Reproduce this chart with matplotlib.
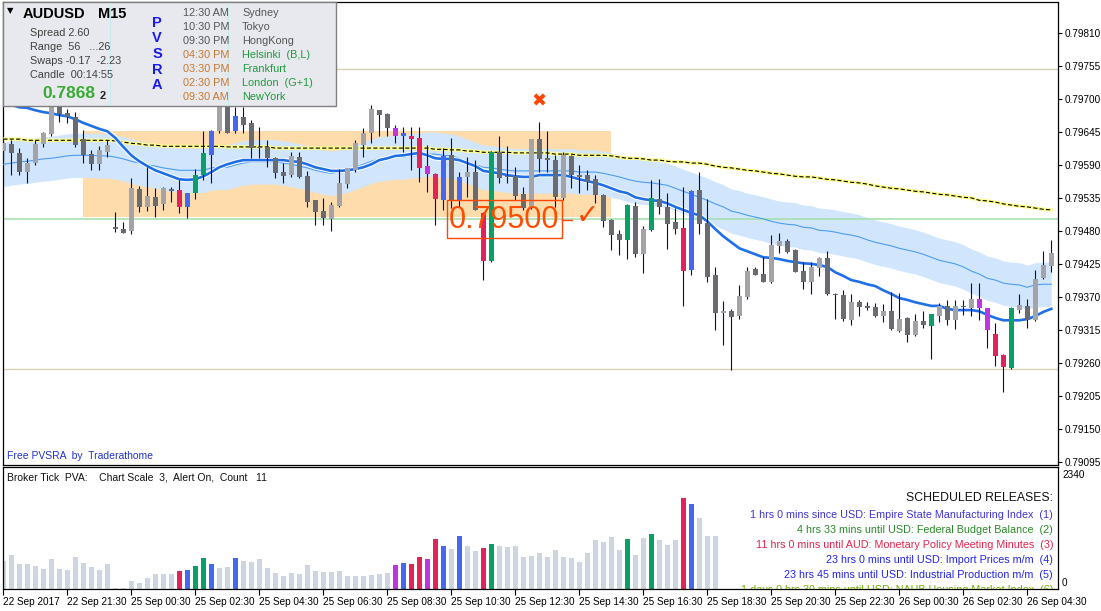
import matplotlib
matplotlib.use("Agg")
import matplotlib.pyplot as plt
import matplotlib.patheffects as pe
from matplotlib.patches import Rectangle
import numpy as np

plt.rcParams['font.family'] = ['Liberation Sans', 'DejaVu Sans']
plt.rcParams['lines.scale_dashes'] = False

# ---- AUDUSD M15 candles ----
opens = [0.79614, 0.79626, 0.79611, 0.79579, 0.79594, 0.79626, 0.79642, 0.79696, 0.79677, 0.79671,
         0.79634, 0.79609, 0.79592, 0.79612, 0.79487, 0.79484, 0.79481, 0.79551, 0.79521, 0.79537,
         0.79526, 0.79551, 0.79549, 0.79521, 0.79544, 0.79574, 0.79607, 0.79647, 0.79692, 0.79647,
         0.79671, 0.79661, 0.79621, 0.79621, 0.79602, 0.79579, 0.79574, 0.79604, 0.79572, 0.79532,
         0.79514, 0.79501, 0.79522, 0.79559, 0.79582, 0.79624, 0.79644, 0.79682, 0.79676, 0.79652,
         0.79639, 0.79639, 0.79636, 0.79589, 0.79576, 0.79532, 0.79607, 0.79532, 0.79571, 0.79579,
         0.79511, 0.79431, 0.79612, 0.79572, 0.79572, 0.79542, 0.79519, 0.79634, 0.79602, 0.79599,
         0.79536, 0.79606, 0.79574, 0.79574, 0.79567, 0.79541, 0.79499, 0.79476, 0.79466, 0.79522,
         0.79442, 0.79482, 0.79534, 0.79521, 0.79496, 0.79486, 0.79416, 0.79549, 0.79494, 0.79407,
         0.79344, 0.79347, 0.79339, 0.79371, 0.79417, 0.79409, 0.79396, 0.79456, 0.79464, 0.79449,
         0.79414, 0.79396, 0.79419, 0.79436, 0.79376, 0.79374, 0.79332, 0.79362, 0.79356, 0.79354,
         0.79339, 0.79347, 0.79314, 0.79336, 0.79307, 0.79331, 0.79322, 0.79339, 0.79356, 0.79332,
         0.79356, 0.79352, 0.79367, 0.79352, 0.79309, 0.79274, 0.79252, 0.79349, 0.79356, 0.79332,
         0.79402, 0.79422]
highs = [0.79636, 0.79633, 0.79619, 0.79602, 0.79633, 0.79646, 0.79702, 0.79706, 0.79684, 0.79679,
         0.79649, 0.79616, 0.79622, 0.79633, 0.79512, 0.79496, 0.79569, 0.79556, 0.79587, 0.79552,
         0.79554, 0.79554, 0.79566, 0.79544, 0.79584, 0.79647, 0.79649, 0.79704, 0.79704, 0.79687,
         0.79687, 0.79666, 0.79654, 0.79633, 0.79604, 0.79594, 0.79612, 0.79612, 0.79581, 0.79533,
         0.79536, 0.79529, 0.79584, 0.79586, 0.79633, 0.79652, 0.79691, 0.79683, 0.79677, 0.79657,
         0.79654, 0.79654, 0.79654, 0.79624, 0.79577, 0.79619, 0.79636, 0.79579, 0.79604, 0.79599,
         0.79512, 0.79614, 0.79639, 0.79622, 0.79587, 0.79554, 0.79634, 0.79662, 0.79647, 0.79607,
         0.79612, 0.79607, 0.79591, 0.79582, 0.79574, 0.79542, 0.79500, 0.79482, 0.79526, 0.79529,
         0.79489, 0.79566, 0.79567, 0.79544, 0.79519, 0.79554, 0.79549, 0.79579, 0.79534, 0.79421,
         0.79364, 0.79351, 0.79391, 0.79421, 0.79421, 0.79437, 0.79474, 0.79477, 0.79467, 0.79450,
         0.79429, 0.79429, 0.79437, 0.79447, 0.79377, 0.79382, 0.79376, 0.79366, 0.79362, 0.79361,
         0.79359, 0.79379, 0.79377, 0.79337, 0.79342, 0.79347, 0.79342, 0.79361, 0.79366, 0.79366,
         0.79366, 0.79394, 0.79394, 0.79353, 0.79327, 0.79275, 0.79354, 0.79376, 0.79367, 0.79416,
         0.79447, 0.79466]
lows = [0.79599, 0.79574, 0.79574, 0.79561, 0.79591, 0.79621, 0.79639, 0.79662, 0.79661, 0.79621,
        0.79594, 0.79582, 0.79582, 0.79604, 0.79479, 0.79477, 0.79476, 0.79512, 0.79514, 0.79504,
        0.79516, 0.79529, 0.79511, 0.79502, 0.79534, 0.79566, 0.79561, 0.79644, 0.79644, 0.79644,
        0.79644, 0.79602, 0.79602, 0.79588, 0.79569, 0.79561, 0.79571, 0.79569, 0.79521, 0.79491,
        0.79491, 0.79481, 0.79521, 0.79552, 0.79579, 0.79604, 0.79627, 0.79639, 0.79639, 0.79627,
        0.79612, 0.79582, 0.79562, 0.79546, 0.79491, 0.79516, 0.79519, 0.79521, 0.79537, 0.79516,
        0.79399, 0.79429, 0.79561, 0.79561, 0.79532, 0.79516, 0.79517, 0.79579, 0.79579, 0.79521,
        0.79532, 0.79552, 0.79544, 0.79549, 0.79527, 0.79487, 0.79449, 0.79441, 0.79434, 0.79437,
        0.79411, 0.79481, 0.79509, 0.79451, 0.79476, 0.79356, 0.79407, 0.79476, 0.79396, 0.79316,
        0.79291, 0.79249, 0.79334, 0.79367, 0.79407, 0.79395, 0.79394, 0.79444, 0.79444, 0.79412,
        0.79384, 0.79376, 0.79406, 0.79374, 0.79334, 0.79331, 0.79324, 0.79339, 0.79349, 0.79337,
        0.79329, 0.79316, 0.79313, 0.79296, 0.79306, 0.79319, 0.79267, 0.79329, 0.79324, 0.79317,
        0.79341, 0.79339, 0.79332, 0.79286, 0.79256, 0.79212, 0.79251, 0.79344, 0.79319, 0.79331,
        0.79401, 0.79412]
closes = [0.79628, 0.79611, 0.79579, 0.79594, 0.79626, 0.79644, 0.79687, 0.79676, 0.79671, 0.79624,
          0.79608, 0.79592, 0.79616, 0.79624, 0.79484, 0.79478, 0.79552, 0.79521, 0.79539, 0.79522,
          0.79552, 0.79547, 0.79521, 0.79544, 0.79574, 0.79611, 0.79647, 0.79699, 0.79644, 0.79672,
          0.79657, 0.79619, 0.79619, 0.79602, 0.79577, 0.79572, 0.79606, 0.79570, 0.79529, 0.79512,
          0.79502, 0.79524, 0.79561, 0.79586, 0.79628, 0.79644, 0.79684, 0.79674, 0.79652, 0.79639,
          0.79644, 0.79634, 0.79586, 0.79576, 0.79534, 0.79606, 0.79532, 0.79571, 0.79579, 0.79516,
          0.79431, 0.79612, 0.79569, 0.79571, 0.79539, 0.79519, 0.79634, 0.79601, 0.79599, 0.79537,
          0.79607, 0.79574, 0.79571, 0.79562, 0.79541, 0.79497, 0.79474, 0.79466, 0.79524, 0.79442,
          0.79484, 0.79536, 0.79521, 0.79492, 0.79484, 0.79414, 0.79547, 0.79492, 0.79404, 0.79344,
          0.79347, 0.79337, 0.79372, 0.79414, 0.79408, 0.79396, 0.79457, 0.79464, 0.79446, 0.79413,
          0.79396, 0.79421, 0.79436, 0.79376, 0.79374, 0.79334, 0.79362, 0.79354, 0.79352, 0.79339,
          0.79347, 0.79317, 0.79334, 0.79307, 0.79331, 0.79324, 0.79342, 0.79356, 0.79332, 0.79356,
          0.79354, 0.79367, 0.79352, 0.79316, 0.79272, 0.79254, 0.79352, 0.79357, 0.79332, 0.79401,
          0.79424, 0.79444]
# PVSRA class per bar: L bull, D bear, R red climax, G green climax, B blue, M magenta
bar_type = ("LDDLLLLDDD" "DDLLDDLDLD" "LDRBGGBLDB" "DDDDDDLDDD" "DLLLLLLDDM"
            "BRRMRBDBLD" "RGDDDDLDDD" "LDDDDDDDGD" "LGDDDRBDDD" "LDLLDDLLDD"
            "DLLDDDLDDD" "LDLDLDGLDL" "DLMMRRGLDL" "LL")

# indicator lines
ma_fast = [0.79694, 0.79691, 0.79687, 0.79686, 0.79682, 0.79679, 0.79677, 0.79674, 0.79672, 0.79667,
           0.79661, 0.79656, 0.79651, 0.79647, 0.79636, 0.79621, 0.79607, 0.79597, 0.79589, 0.79582,
           0.79577, 0.79572, 0.79567, 0.79566, 0.79567, 0.79572, 0.79579, 0.79587, 0.79592, 0.79596,
           0.79599, 0.79599, 0.79599, 0.79599, 0.79599, 0.79599, 0.79597, 0.79596, 0.79592, 0.79587,
           0.79584, 0.79581, 0.79581, 0.79582, 0.79584, 0.79587, 0.79592, 0.79599, 0.79602, 0.79606,
           0.79607, 0.79609, 0.79611, 0.79607, 0.79602, 0.79601, 0.79601, 0.79599, 0.79594, 0.79589,
           0.79581, 0.79579, 0.79577, 0.79574, 0.79572, 0.79571, 0.79571, 0.79574, 0.79574, 0.79574,
           0.79574, 0.79571, 0.79567, 0.79564, 0.79561, 0.79557, 0.79552, 0.79547, 0.79544, 0.79537,
           0.79534, 0.79532, 0.79531, 0.79527, 0.79521, 0.79516, 0.79511, 0.79507, 0.79497, 0.79484,
           0.79472, 0.79462, 0.79452, 0.79447, 0.79442, 0.79437, 0.79436, 0.79434, 0.79431, 0.79429,
           0.79427, 0.79426, 0.79424, 0.79421, 0.79412, 0.79406, 0.79399, 0.79396, 0.79392, 0.79389,
           0.79382, 0.79376, 0.79369, 0.79366, 0.79362, 0.79359, 0.79356, 0.79356, 0.79351, 0.79349,
           0.79349, 0.79349, 0.79347, 0.79341, 0.79336, 0.79332, 0.79332, 0.79332, 0.79334, 0.79339,
           0.79346, 0.79351]
band_mid = [0.79592, 0.79594, 0.79596, 0.79597, 0.79599, 0.79601, 0.79602, 0.79604, 0.79606, 0.79607,
            0.79607, 0.79607, 0.79606, 0.79606, 0.79604, 0.79601, 0.79597, 0.79594, 0.79591, 0.79589,
            0.79586, 0.79584, 0.79582, 0.79582, 0.79582, 0.79582, 0.79586, 0.79587, 0.79587, 0.79591,
            0.79594, 0.79596, 0.79596, 0.79596, 0.79596, 0.79594, 0.79592, 0.79589, 0.79586, 0.79582,
            0.79579, 0.79577, 0.79579, 0.79582, 0.79587, 0.79592, 0.79597, 0.79601, 0.79602, 0.79604,
            0.79604, 0.79606, 0.79607, 0.79609, 0.79609, 0.79607, 0.79606, 0.79602, 0.79597, 0.79592,
            0.79587, 0.79586, 0.79584, 0.79582, 0.79581, 0.79581, 0.79581, 0.79581, 0.79581, 0.79581,
            0.79581, 0.79581, 0.79579, 0.79579, 0.79579, 0.79577, 0.79574, 0.79571, 0.79567, 0.79564,
            0.79562, 0.79561, 0.79559, 0.79557, 0.79552, 0.79547, 0.79542, 0.79537, 0.79532, 0.79526,
            0.79521, 0.79514, 0.79511, 0.79507, 0.79504, 0.79501, 0.79497, 0.79494, 0.79492, 0.79491,
            0.79487, 0.79486, 0.79482, 0.79481, 0.79479, 0.79476, 0.79474, 0.79471, 0.79466, 0.79462,
            0.79459, 0.79456, 0.79452, 0.79449, 0.79446, 0.79442, 0.79437, 0.79432, 0.79429, 0.79426,
            0.79421, 0.79414, 0.79409, 0.79402, 0.79399, 0.79394, 0.79392, 0.79391, 0.79387, 0.79391,
            0.79392, 0.79392]
band_half = 0.00037
ma_slow = [0.79634, 0.79634, 0.79634, 0.79632, 0.79632, 0.79632, 0.79632, 0.79632, 0.79632, 0.79632,
           0.79632, 0.79632, 0.79632, 0.79632, 0.79631, 0.79629, 0.79627, 0.79626, 0.79624, 0.79624,
           0.79622, 0.79622, 0.79622, 0.79622, 0.79622, 0.79622, 0.79622, 0.79622, 0.79621, 0.79621,
           0.79621, 0.79621, 0.79621, 0.79621, 0.79619, 0.79619, 0.79619, 0.79619, 0.79619, 0.79619,
           0.79619, 0.79619, 0.79619, 0.79619, 0.79619, 0.79619, 0.79619, 0.79619, 0.79619, 0.79619,
           0.79619, 0.79619, 0.79619, 0.79619, 0.79617, 0.79617, 0.79616, 0.79616, 0.79614, 0.79614,
           0.79612, 0.79612, 0.79612, 0.79612, 0.79611, 0.79611, 0.79611, 0.79611, 0.79611, 0.79609,
           0.79609, 0.79609, 0.79607, 0.79607, 0.79607, 0.79607, 0.79606, 0.79604, 0.79602, 0.79602,
           0.79601, 0.79599, 0.79599, 0.79597, 0.79596, 0.79596, 0.79594, 0.79594, 0.79592, 0.79589,
           0.79587, 0.79586, 0.79584, 0.79582, 0.79581, 0.79579, 0.79577, 0.79576, 0.79574, 0.79572,
           0.79571, 0.79571, 0.79569, 0.79567, 0.79566, 0.79564, 0.79562, 0.79561, 0.79559, 0.79556,
           0.79554, 0.79552, 0.79551, 0.79549, 0.79547, 0.79546, 0.79544, 0.79542, 0.79541, 0.79539,
           0.79537, 0.79536, 0.79532, 0.79531, 0.79529, 0.79526, 0.79524, 0.79522, 0.79521, 0.79519,
           0.79517, 0.79516]

# broker tick volume (PVA histogram)
volume = [533, 647, 475, 475, 437, 393, 570, 393, 361, 608,
          494, 418, 361, 475, 20, 20, 152, 114, 209, 279,
          285, 285, 342, 361, 437, 590, 475, 400, 418, 590,
          533, 513, 570, 400, 304, 247, 304, 285, 456, 342,
          323, 323, 342, 247, 247, 247, 266, 285, 304, 456,
          494, 475, 608, 570, 951, 818, 761, 1008, 818, 723,
          780, 856, 818, 799, 818, 608, 628, 685, 608, 742,
          608, 590, 513, 685, 932, 894, 989, 742, 951, 647,
          970, 1046, 932, 837, 932, 1750, 1636, 1369, 1008, 1008]
vol_max = 2340

# supply/demand zone and levels
zone_start, zone_end = 10, 76
zone_low, zone_high = 0.79504, 0.79648
round_levels = [0.7975, 0.7925]
alert_level = 0.79500

price_ticks = [0.79095, 0.79150, 0.79205, 0.79260, 0.79315, 0.79370, 0.79425,
               0.79480, 0.79535, 0.79590, 0.79645, 0.79700, 0.79755, 0.79810]
time_labels = ["22 Sep 2017", "22 Sep 21:30", "25 Sep 00:30", "25 Sep 02:30", "25 Sep 04:30",
               "25 Sep 06:30", "25 Sep 08:30", "25 Sep 10:30", "25 Sep 12:30", "25 Sep 14:30",
               "25 Sep 16:30", "25 Sep 18:30", "25 Sep 20:30", "25 Sep 22:30", "26 Sep 00:30",
               "26 Sep 02:30", "26 Sep 04:30"]

sessions = [("12:30 AM", "Sydney"), ("10:30 PM", "Tokyo"), ("09:30 PM", "HongKong"),
            ("04:30 PM", "Helsinki  (B,L)"), ("03:30 PM", "Frankfurt"),
            ("02:30 PM", "London  (G+1)"), ("09:30 AM", "NewYork")]
releases = [("SCHEDULED RELEASES:", "#111111"),
            ("1 hrs 0 mins since USD: Empire State Manufacturing Index  (1)", "#4034d2"),
            ("4 hrs 33 mins until USD: Federal Budget Balance  (2)", "#2a8a2a"),
            ("11 hrs 0 mins until AUD: Monetary Policy Meeting Minutes  (3)", "#e2244e"),
            ("23 hrs 0 mins until USD: Import Prices m/m  (4)", "#2424e6"),
            ("23 hrs 45 mins until USD: Industrial Production m/m  (5)", "#2424e6"),
            ("1 days 0 hrs 30 mins until USD: NAHB Housing Market Index  (6)", "#74b000")]

body_colors = {'L': '#a4a4a8', 'D': '#6a6a72', 'R': '#e0245a',
               'G': '#08a064', 'B': '#4468f0', 'M': '#bf36e0'}
vol_colors = {'L': '#cdd5e1', 'D': '#cdd5e1', 'R': '#e0245a',
              'G': '#08a064', 'B': '#4468f0', 'M': '#bf36e0'}

W, H = 1101, 611
fig = plt.figure(figsize=(W / 100, H / 100), dpi=100)


def box(x0, y0, x1, y1):
    return [x0 / W, 1 - y1 / H, (x1 - x0) / W, (y1 - y0) / H]


ax = fig.add_axes(box(3, 2, 1058, 465))
axv = fig.add_axes(box(3, 467, 1058, 589))
ov = fig.add_axes([0, 0, 1, 1])
ov.set_xlim(0, W)
ov.set_ylim(H, 0)
ov.axis('off')
ov.set_zorder(10)

x = np.arange(len(opens))
o = np.array(opens)
c = np.array(closes)
mid = np.array(band_mid)

# ---- main pane ----
ax.add_patch(Rectangle((zone_start, zone_low), zone_end - zone_start, zone_high - zone_low,
                       fc='#fedcab', ec='none', zorder=1))
ax.fill_between(x, mid - band_half, mid + band_half, color='#d1e6fc', lw=0, zorder=2)
for lv in round_levels:
    ax.axhline(lv, color='#d9d1b6', lw=1, zorder=2.5)
ax.axhline(alert_level, color='#a6e0b2', lw=1.2, zorder=2.5)
ax.plot(x, mid, color='#4d9cf0', lw=0.8, zorder=3)
ax.plot(x, ma_slow, color='#ffff8c', lw=2.4, zorder=3)
ax.plot(x, ma_slow, color='black', lw=0.8, dashes=(3, 1.6), zorder=3.1)
ax.plot(x, ma_fast, color='#1f6fe6', lw=1.9, zorder=4,
        path_effects=[pe.Stroke(linewidth=3.3, foreground='white'), pe.Normal()])

ax.vlines(x, lows, highs, color='#0a0a50', lw=0.8, zorder=5)
ax.bar(x, np.maximum(np.abs(c - o), 0.000017), 0.6, np.minimum(o, c),
       color=[body_colors[t] for t in bar_type], lw=0, zorder=6)

ax.set_xlim(-0.04, 131.84)
ax.set_ylim(0.790908, 0.798625)
ax.yaxis.tick_right()
ax.set_yticks(price_ticks)
ax.set_yticklabels([f"{p:.5f}" for p in price_ticks])
ax.tick_params(axis='y', direction='out', length=3, width=0.8, pad=1.5, labelsize=7.2)
ax.tick_params(axis='x', bottom=False, labelbottom=False)
for s in ax.spines.values():
    s.set_linewidth(0.9)

# ---- volume pane ----
nv = len(volume)
axv.bar(x[:nv], volume, 0.56, color=[vol_colors[t] for t in bar_type[:nv]], lw=0)
axv.set_xlim(-0.04, 131.84)
axv.set_ylim(0, vol_max)
axv.set_yticks([])
axv.set_xticks(range(0, 8 * len(time_labels), 8))
axv.set_xticklabels(time_labels, ha='left', fontsize=7.2)
axv.tick_params(axis='x', direction='out', length=4, width=0.8, pad=1.5)
for s in axv.spines.values():
    s.set_linewidth(0.9)

axv.text(7, 477, "Broker Tick  PVA:    Chart Scale  3,  Alert On,  Count   11",
         transform=ov.transData, fontsize=7.5, va='center', color='#111111')
for k, (txt, col) in enumerate(releases):
    axv.text(1053, 498 + 15 * k + (2 if k else 0), txt, transform=ov.transData,
             fontsize=8.8 if k == 0 else 7.75, color=col, ha='right', va='center', clip_on=True)

ov.text(1062, 475, str(vol_max), fontsize=7.2, va='center')
ov.text(1062, 583, "0", fontsize=7.2, va='center')

# ---- annotations on the price pane ----
ov.add_patch(Rectangle((447, 200), 115, 38, fc='none', ec='#ff4500', lw=1))
ov.text(504, 220, "0.79500", fontsize=22, color='#ff4d00', ha='center', va='center')
ov.plot([562, 572], [219.5, 219.5], color='#ff4500', lw=1)
ov.text(587, 216, "\u2713", fontsize=20, color='#ff4500', ha='center', va='center',
        family=['DejaVu Sans'])
ov.text(539, 102, "\u2716", fontsize=13, color='#ff4500', ha='center', va='center',
        family=['DejaVu Sans'])
ov.text(7, 456, "Free PVSRA  by  Traderathome", fontsize=7.5, color='#2233cc', va='center')

# ---- info panel ----
ov.add_patch(Rectangle((3, 2), 333, 104, fc='#e8e9ee', ec='#808080', lw=1))
ov.plot([110, 110], [3, 105], color='#c4ecec', lw=0.8)
ov.plot([228, 228], [3, 105], color='#c4ecec', lw=0.8)
ov.text(10, 11, "\u25bc", fontsize=6, va='center', ha='center', family=['DejaVu Sans'])
ov.text(23, 14, "AUDUSD", fontsize=10.5, fontweight='bold', va='center')
ov.text(98, 14, "M15", fontsize=10.5, fontweight='bold', va='center')
for k, s in enumerate(["Spread 2.60", "Range  56   ...26", "Swaps -0.17  -2.23", "Candle  00:14:55"]):
    ov.text(30, 33 + 14 * k, s, fontsize=7.8, color='#404040', va='center')
ov.text(42, 94, "0.7868", fontsize=12.5, fontweight='bold', color='#3aaa35', va='center')
ov.text(100, 96, "2", fontsize=8, fontweight='bold', color='#222222', va='center')
for k, ch in enumerate("PVSRA"):
    ov.text(157, 23 + 15.5 * k, ch, fontsize=10.5, fontweight='bold', color='#1a1aee',
            ha='center', va='center')
for k, (tm, city) in enumerate(sessions):
    tcol = '#555555' if k < 3 else '#c8782e'
    ccol = '#555555' if k < 3 else '#1e9a3c'
    ov.text(183, 12.5 + 14 * k, tm, fontsize=7.8, color=tcol, va='center')
    ov.text(242, 12.5 + 14 * k, city, fontsize=7.8, color=ccol, va='center')

fig.savefig("out.png", dpi=100, facecolor='white')
